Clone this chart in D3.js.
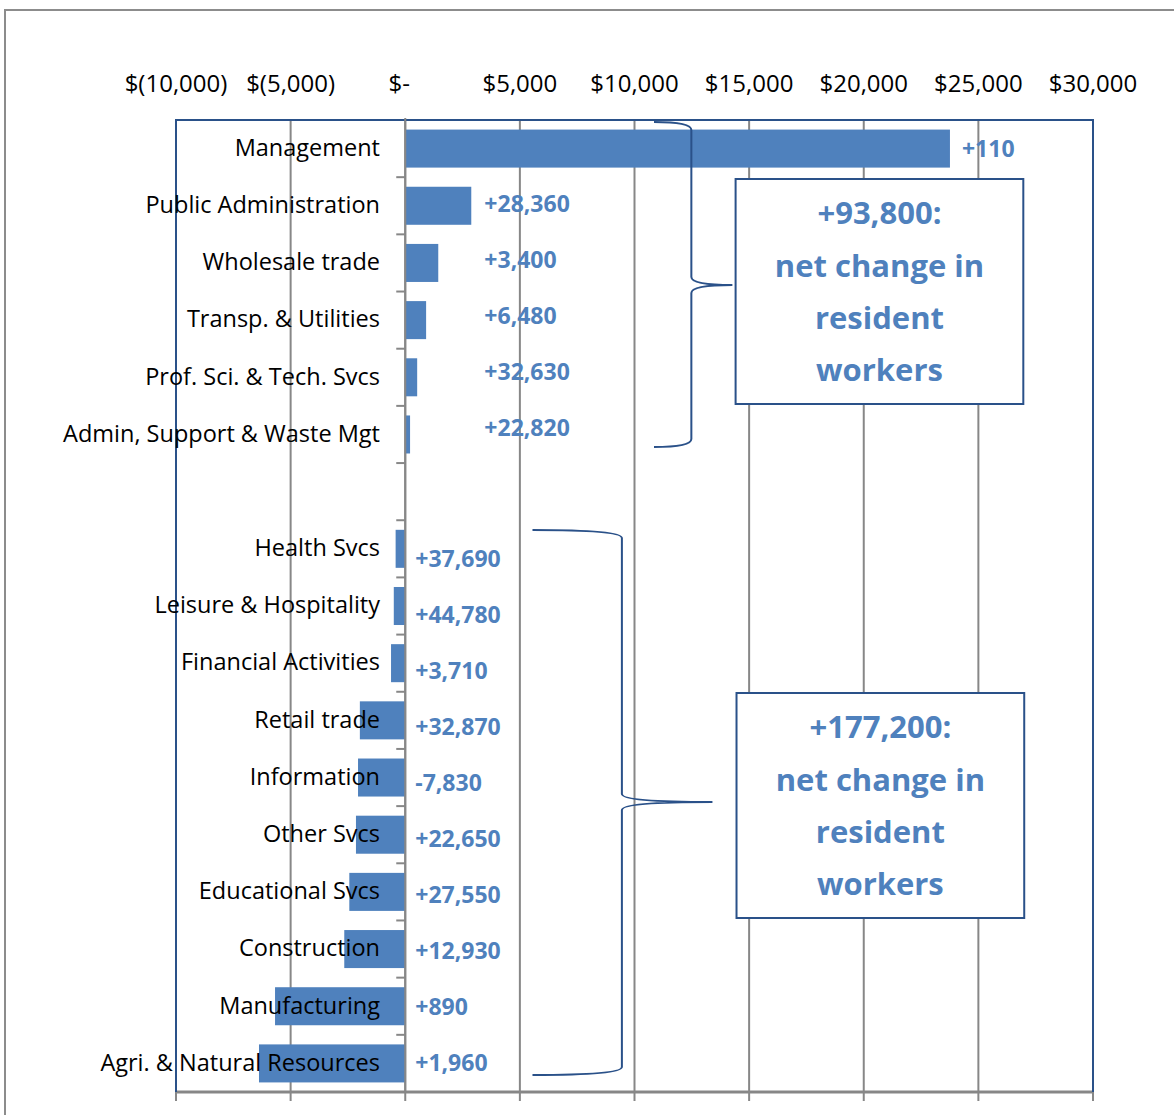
<!DOCTYPE html>
<html>
<head>
<meta charset="utf-8">
<script src="https://cdn.jsdelivr.net/npm/d3@7"></script>
<style>
  body { margin: 0; background: #fff; }
  svg { display: block; }
</style>
</head>
<body>
<div class="chart"></div>
<script>
// industries, top to bottom ("" = empty spacer row)
const categories = [
  "Management", "Public Administration", "Wholesale trade", "Transp. & Utilities",
  "Prof. Sci. & Tech. Svcs", "Admin, Support & Waste Mgt", "",
  "Health Svcs", "Leisure & Hospitality", "Financial Activities", "Retail trade",
  "Information", "Other Svcs", "Educational Svcs", "Construction", "Manufacturing",
  "Agri. & Natural Resources"
];
// change in average wages ($)
const values = [
  23760, 2880, 1440, 910, 520, 210, 0,
  -420, -500, -620, -1980, -2060, -2150, -2440, -2660, -5680, -6380
];
// net change in resident workers (text boxes on the chart)
const topLabel = "+110";
const upperLabels = ["+28,360", "+3,400", "+6,480", "+32,630", "+22,820"];
const lowerLabels = ["+37,690", "+44,780", "+3,710", "+32,870", "-7,830",
  "+22,650", "+27,550", "+12,930", "+890", "+1,960"];
const xTicks = [-10000, -5000, 0, 5000, 10000, 15000, 20000, 25000, 30000];
const xTickText = ["$(10,000)", "$(5,000)", "$-", "$5,000", "$10,000",
  "$15,000", "$20,000", "$25,000", "$30,000"];
const boxes = [
  {lines: ["+93,800:", "net change in", "resident", "workers"]},
  {lines: ["+177,200:", "net change in", "resident", "workers"]}
];

const width = 1174, height = 1115;
const pLeft = 176, pRight = 1093, pTop = 120, pBottom = 1092;
const blue = "#4f81bd", dark = "#2a5189", grey = "#878787";
const font = "'Open Sans', 'Noto Sans', sans-serif";

const svg = d3.select('.chart').append('svg')
  .attr('width', width).attr('height', height);

const x = d3.scaleLinear().domain([-10000, 30000]).range([pLeft, pRight]);
const y = d3.scaleBand().domain(d3.range(categories.length))
  .range([pTop, pBottom]).paddingInner(0.335).paddingOuter(0.1675);

// outer chart frame
svg.append('rect').attr('x', 5).attr('y', 10)
  .attr('width', width + 20).attr('height', height + 20)
  .attr('fill', 'none').attr('stroke', '#8c8c8c').attr('stroke-width', 2);

// gridlines + tick marks below
svg.selectAll('line.grid').data(xTicks.slice(1)).enter().append('line')
  .attr('class', 'grid')
  .attr('x1', d => x(d)).attr('x2', d => x(d))
  .attr('y1', pTop).attr('y2', pBottom + 9)
  .attr('stroke', grey).attr('stroke-width', 2);
svg.append('line').attr('x1', pLeft).attr('x2', pLeft)
  .attr('y1', pBottom).attr('y2', pBottom + 9)
  .attr('stroke', grey).attr('stroke-width', 2);

// bottom axis line
svg.append('line').attr('x1', pLeft).attr('x2', pRight)
  .attr('y1', pBottom).attr('y2', pBottom)
  .attr('stroke', grey).attr('stroke-width', 3);

// plot area border
svg.append('path')
  .attr('d', `M${pLeft},${pBottom}V${pTop}H${pRight}V${pBottom}`)
  .attr('fill', 'none').attr('stroke', dark).attr('stroke-width', 2);

// top tick labels
svg.selectAll('text.xtick').data(xTicks).enter().append('text')
  .attr('class', 'xtick')
  .attr('x', (d, i) => x(d) + (d === 0 ? -6 : 0))
  .attr('y', 86)
  .attr('text-anchor', 'middle').attr('dominant-baseline', 'middle')
  .attr('font-family', font).attr('font-size', 24).attr('fill', '#000')
  .text((d, i) => xTickText[i]);

// bars
svg.selectAll('rect.bar').data(values).enter().append('rect')
  .attr('class', 'bar')
  .attr('x', d => x(Math.min(0, d)))
  .attr('width', d => Math.abs(x(d) - x(0)))
  .attr('y', (d, i) => y(i))
  .attr('height', y.bandwidth())
  .attr('fill', blue);

// category axis (zero line + ticks at band boundaries)
svg.append('line').attr('x1', x(0)).attr('x2', x(0))
  .attr('y1', pTop - 2).attr('y2', pBottom)
  .attr('stroke', grey).attr('stroke-width', 2);
svg.selectAll('line.ctick').data(d3.range(1, categories.length)).enter().append('line')
  .attr('class', 'ctick')
  .attr('x1', x(0) - 9).attr('x2', x(0))
  .attr('y1', d => pTop + d * y.step()).attr('y2', d => pTop + d * y.step())
  .attr('stroke', grey).attr('stroke-width', 2);

// category labels
svg.selectAll('text.cat').data(categories).enter().append('text')
  .attr('class', 'cat')
  .attr('x', 380)
  .attr('y', (d, i) => y(i) + y.bandwidth() / 2 + 1)
  .attr('text-anchor', 'end').attr('dominant-baseline', 'middle')
  .attr('font-family', font).attr('font-size', 23.5).attr('fill', '#000')
  .text(d => d);

// value text labels
const lbl = (sel) => sel.attr('font-family', font).attr('font-weight', 'bold')
  .attr('fill', blue).attr('dominant-baseline', 'middle');

svg.append('text').call(lbl)
  .attr('x', x(values[0]) + 12)
  .attr('y', y(0) + y.bandwidth() / 2 + 2)
  .attr('font-size', 23)
  .text(topLabel);

const upperY = d3.scaleLinear().domain([0, 1])
  .range([y(1) + y.bandwidth() / 2, y(1) + y.bandwidth() / 2 + 56]);
svg.selectAll('text.up').data(upperLabels).enter().append('text')
  .attr('class', 'up').call(lbl)
  .attr('x', x(3450))
  .attr('y', (d, i) => upperY(i))
  .attr('font-size', 23)
  .text(d => d);

const lowerY = d3.scaleLinear().domain([0, 1])
  .range([y(7) + y.bandwidth() / 2 + 12, y(7) + y.bandwidth() / 2 + 12 + 56]);
svg.selectAll('text.low').data(lowerLabels).enter().append('text')
  .attr('class', 'low').call(lbl)
  .attr('x', x(0) + 10)
  .attr('y', (d, i) => lowerY(i))
  .attr('font-size', 23)
  .text(d => d);

// curly braces
function brace(x0, x1, xt, y0, y1, ym) {
  const c = 8;
  return `M${x0},${y0} C${x0 + (x1 - x0) * 0.6},${y0} ${x1},${y0 + 2} ${x1},${y0 + c}`
    + ` V${ym - c} C${x1},${ym - 2} ${x1 + (xt - x1) * 0.4},${ym} ${xt},${ym}`
    + ` C${x1 + (xt - x1) * 0.4},${ym} ${x1},${ym + 2} ${x1},${ym + c}`
    + ` V${y1 - c} C${x1},${y1 - 2} ${x0 + (x1 - x0) * 0.6},${y1} ${x0},${y1}`;
}
svg.append('path')
  .attr('d', brace(x(10850), x(12480), x(14270), 122, 447, 285))
  .attr('fill', 'none').attr('stroke', dark).attr('stroke-width', 2);
svg.append('path')
  .attr('d', brace(x(5550), x(9450), x(13400), 530, 1075, 802))
  .attr('fill', 'none').attr('stroke', dark).attr('stroke-width', 2);

// text boxes
const boxPos = [
  {x0: x(14410), x1: x(26960), y0: 179, y1: 404},
  {x0: x(14450), x1: x(27000), y0: 693, y1: 918}
];
boxes.forEach((b, k) => {
  const p = boxPos[k];
  svg.append('rect')
    .attr('x', p.x0).attr('y', p.y0)
    .attr('width', p.x1 - p.x0).attr('height', p.y1 - p.y0)
    .attr('fill', '#fff').attr('stroke', dark).attr('stroke-width', 2);
  svg.selectAll(null).data(b.lines).enter().append('text')
    .attr('x', (p.x0 + p.x1) / 2)
    .attr('y', (d, i) => p.y0 + 37 + i * 52.3)
    .attr('text-anchor', 'middle').attr('dominant-baseline', 'middle')
    .attr('font-family', font).attr('font-weight', 'bold').attr('font-size', 31)
    .attr('fill', blue)
    .text(d => d);
});
</script>
</body>
</html>
